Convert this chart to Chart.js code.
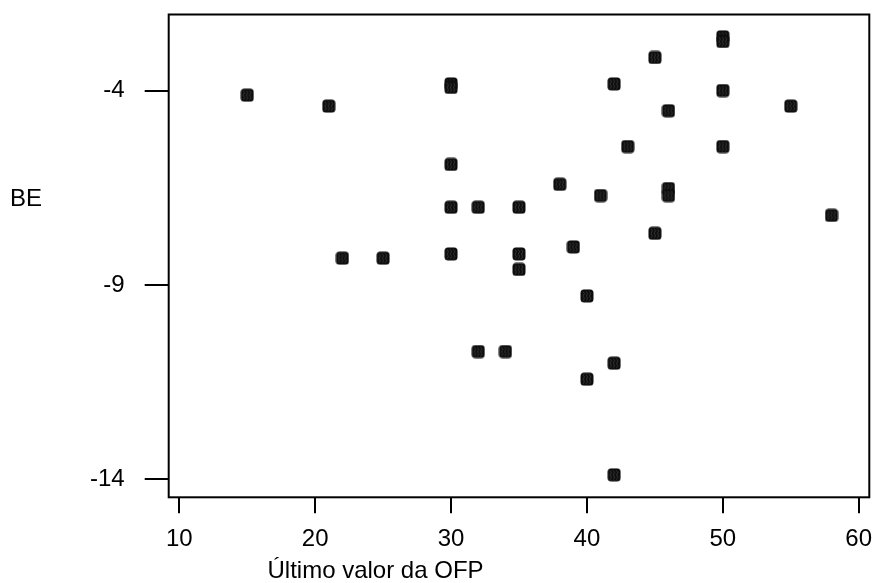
<!DOCTYPE html>
<html><head><meta charset="utf-8">
<script src="https://cdn.jsdelivr.net/npm/chart.js@4.4.0/dist/chart.umd.min.js"></script>
<style>html,body{margin:0;padding:0;background:#fff;} canvas{display:block;}</style>
</head><body>
<canvas id="c" width="872" height="583"></canvas>
<script>
const ofpValues = [15,21,22,25,30,30,30,30,30,32,32,34,35,35,35,38,39,40,40,41,42,42,42,43,45,45,46,46,46,50,50,50,50,55,58];
const beValues = [-4.12,-4.40,-8.31,-8.31,-3.83,-3.92,-5.90,-7.00,-8.20,-7.00,-10.71,-10.71,-7.00,-8.20,-8.60,-6.41,-8.02,-9.28,-11.42,-6.70,-3.83,-11.01,-13.88,-5.44,-3.15,-7.67,-4.52,-6.52,-6.70,-2.62,-2.74,-4.00,-5.44,-4.40,-7.21];
const xTickValues = [10,20,30,40,50,60];
const yTickValues = [-4,-9,-14];
const xTitle = 'Último valor da OFP';
const yTitle = 'BE';

const FONT = '"Liberation Sans", Arial, Helvetica, sans-serif';

// marker glyph: dark rounded square with faint hatch
function makeMarker(){
  const m = document.createElement('canvas');
  m.width = 14; m.height = 14;
  const g = m.getContext('2d');
  g.fillStyle = '#0d0d0d';
  g.beginPath();
  if (g.roundRect) g.roundRect(0.5, 0.5, 13, 13, 3.5); else g.rect(0.5,0.5,13,13);
  g.fill();
  g.strokeStyle = 'rgba(120,120,120,0.55)';
  g.lineWidth = 0.7;
  for (let k = 0; k < 3; k++) {
    const x0 = 3 + k * 3.2;
    g.beginPath();
    g.moveTo(x0, 2.5);
    for (let j = 1; j <= 4; j++) g.lineTo(x0 + (j % 2 ? 1.4 : 0), 2.5 + j * 2.3);
    g.stroke();
  }
  return m;
}
const marker = makeMarker();

const zeroPad = () => ({left: 0, right: 0, top: 0, bottom: 0});

const framePlugin = {
  id: 'frame',
  beforeLayout(chart){
    Object.values(chart.scales).forEach(s => { s.getPadding = zeroPad; });
  },
  beforeDatasetsDraw(chart){
    const {ctx, chartArea:a} = chart;
    ctx.save();
    ctx.strokeStyle = '#000'; ctx.lineWidth = 2;
    ctx.strokeRect(a.left, a.top, a.right - a.left, a.bottom - a.top);
    ctx.restore();
  },
  afterDraw(chart){
    const ctx = chart.ctx;
    ctx.save();
    ctx.fillStyle = '#000';
    ctx.font = '24px ' + FONT;
    ctx.textBaseline = 'alphabetic'; ctx.textAlign = 'left';
    ctx.fillText(xTitle, 267.5, 578);
    ctx.fillText(yTitle, 10, 206);
    ctx.restore();
  }
};

new Chart(document.getElementById('c'), {
  type: 'scatter',
  data: { datasets: [{
    data: ofpValues.map((x, i) => ({x: x, y: beValues[i]})),
    pointStyle: marker, pointRadius: 1, pointHoverRadius: 1, pointBorderWidth: 0, pointHoverBorderWidth: 0,
    backgroundColor: '#111', borderColor: '#111', borderWidth: 0
  }]},
  options: {
    responsive: false, animation: false, devicePixelRatio: 1, events: [],
    layout: { padding: { top: 14.5, right: 2.7, left: 0, bottom: 0 } },
    plugins: { legend: { display: false }, tooltip: { enabled: false } },
    scales: {
      x: {
        type: 'linear', position: 'bottom', min: 9.22, max: 60.78,
        afterBuildTicks: s => { s.ticks = xTickValues.map(v => ({value: v})); },
        afterFit: s => { s.height = 85.7; },
        grid: { drawOnChartArea: false, drawTicks: true, tickLength: 16, color: '#000', lineWidth: 2 },
        border: { display: false },
        ticks: { color: '#000', font: { family: FONT, size: 24 }, padding: 12, maxRotation: 0, autoSkip: false }
      },
      y: {
        type: 'linear', position: 'left', min: -14.458, max: -2.046,
        afterBuildTicks: s => { s.ticks = yTickValues.map(v => ({value: v})); },
        afterFit: s => { s.width = 168.7; },
        grid: { drawOnChartArea: false, drawTicks: true, tickLength: 24, color: '#000', lineWidth: 2 },
        border: { display: false },
        ticks: { color: '#000', font: { family: FONT, size: 24 }, padding: 20, autoSkip: false }
      }
    }
  },
  plugins: [framePlugin]
});
</script>
</body></html>
